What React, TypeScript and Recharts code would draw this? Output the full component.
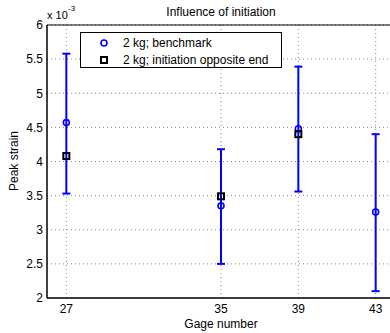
import React from "react";
import {
  ComposedChart,
  Scatter,
  XAxis,
  YAxis,
  CartesianGrid,
  ErrorBar,
  ReferenceLine,
  Legend,
  Customized,
} from "recharts";

const gages = [27, 35, 39, 43];
const benchmark = [4.57, 3.35, 4.48, 3.26];
const benchLow = [3.53, 2.5, 3.56, 2.1];
const benchHigh = [5.58, 4.18, 5.39, 4.4];
const oppositeGages = [27, 35, 39];
const opposite = [4.08, 3.49, 4.4];
const yTicks = [2, 2.5, 3, 3.5, 4, 4.5, 5, 5.5, 6];
const xTicks = [27, 35, 39, 43];
const seriesNames = ["2 kg; benchmark", "2 kg; initiation opposite end"];

const benchData = gages.map((g, i) => ({
  x: g,
  y: benchmark[i],
  err: [benchmark[i] - benchLow[i], benchHigh[i] - benchmark[i]],
}));
const oppData = oppositeGages.map((g, i) => ({ x: g, y: opposite[i] }));

const FONT = "'Liberation Sans', Arial, sans-serif";
const BLUE = "#0000ff";

const Circle = (props: any) => {
  const { cx, cy } = props;
  if (cx == null || cy == null) return null;
  return <circle cx={cx} cy={cy} r={3} fill="none" stroke={BLUE} strokeWidth={1.6} />;
};
const Square = (props: any) => {
  const { cx, cy } = props;
  if (cx == null || cy == null) return null;
  return (
    <rect x={cx - 3} y={cy - 3} width={6} height={6} fill="none" stroke="#000" strokeWidth={2} />
  );
};

const LegendBox = () => (
  <div
    style={{
      width: 200,
      height: 34,
      border: "1px solid #000",
      background: "#fff",
      fontFamily: FONT,
      fontSize: 12,
      position: "relative",
    }}
  >
    <svg width={200} height={34} style={{ position: "absolute", left: 0, top: 0 }}>
      <circle cx={23} cy={10} r={3} fill="none" stroke={BLUE} strokeWidth={1.6} />
      <rect x={20} y={24} width={6} height={6} fill="none" stroke="#000" strokeWidth={2} />
      <text x={42} y={14} fontSize={12} fontFamily={FONT} fill="#000">
        {seriesNames[0]}
      </text>
      <text x={42} y={31} fontSize={12} fontFamily={FONT} fill="#000">
        {seriesNames[1]}
      </text>
    </svg>
  </div>
);

const Labels = () => (
  <g fontFamily={FONT} fill="#000">
    <text x={221} y={16} textAnchor="middle" fontSize={12}>
      Influence of initiation
    </text>
    <text x={47} y={19} fontSize={11}>
      x 10
    </text>
    <text x={68} y={11} fontSize={8}>
      -3
    </text>
    <text x={221} y={328} textAnchor="middle" fontSize={12}>
      Gage number
    </text>
    <text x={18} y={161} textAnchor="middle" fontSize={12} transform="rotate(-90 18 161)">
      Peak strain
    </text>
  </g>
);

export default function App() {
  return (
    <div
      style={{
        position: "absolute",
        left: 0,
        top: 0,
        width: 390,
        height: 333,
        overflow: "hidden",
        background: "#fff",
      }}
    >
      <ComposedChart
        width={400}
        height={333}
        margin={{ top: 25, right: 5, bottom: 0, left: 0 }}
        style={{ fontFamily: FONT }}
      >
        <CartesianGrid
          stroke="#888"
          strokeDasharray="1 3"
          horizontalValues={yTicks}
          verticalValues={xTicks}
        />
        <XAxis
          type="number"
          dataKey="x"
          domain={[26, 44]}
          ticks={xTicks}
          allowDataOverflow
          height={35}
          tickLine={false}
          tickSize={0}
          tickMargin={6}
          axisLine={{ stroke: "#000", strokeWidth: 1.5 }}
          tick={{ fill: "#000", fontSize: 12, fontFamily: FONT }}
        />
        <YAxis
          type="number"
          dataKey="y"
          domain={[2, 6]}
          ticks={yTicks}
          allowDataOverflow
          width={47}
          tickLine={false}
          tickSize={0}
          tickMargin={4}
          axisLine={{ stroke: "#000", strokeWidth: 1.5 }}
          tick={{ fill: "#000", fontSize: 12, fontFamily: FONT }}
          tickFormatter={(v: number) => String(v)}
        />
        <ReferenceLine y={6} stroke="#000" strokeWidth={1} ifOverflow="visible" />
        <Scatter
          name={seriesNames[0]}
          data={benchData}
          dataKey="y"
          shape={Circle}
          isAnimationActive={false}
        >
          <ErrorBar dataKey="err" direction="y" width={4} stroke={BLUE} strokeWidth={2} />
        </Scatter>
        <Scatter
          name={seriesNames[1]}
          data={oppData}
          dataKey="y"
          shape={Square}
          isAnimationActive={false}
        />
        <Legend
          layout="horizontal"
          verticalAlign="middle"
          align="center"
          content={<LegendBox />}
          wrapperStyle={{ position: "absolute", left: 80, top: 32, width: 202, height: 36 }}
        />
        <Customized component={Labels} />
      </ComposedChart>
    </div>
  );
}
